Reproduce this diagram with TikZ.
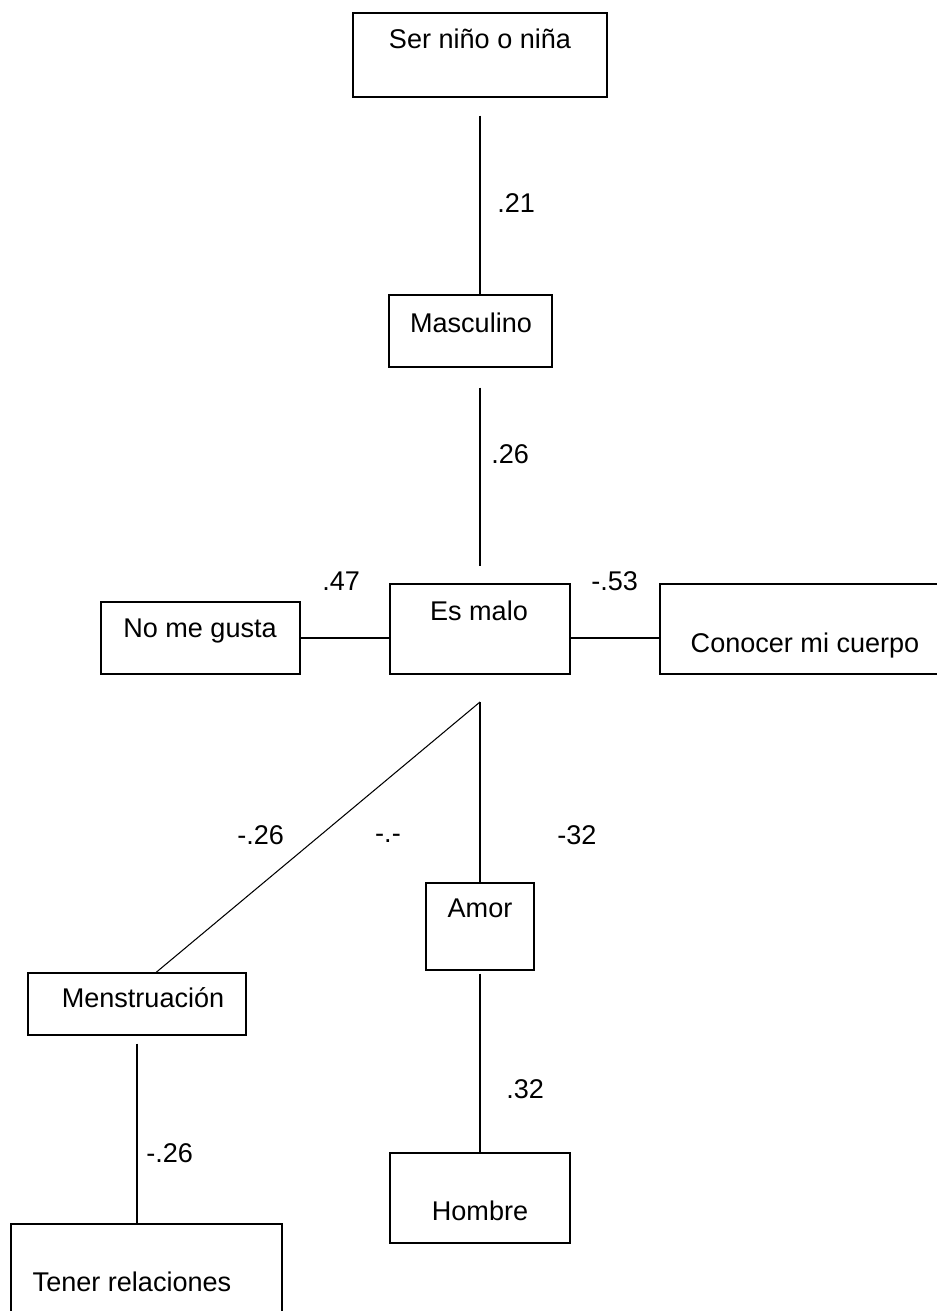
\documentclass[tikz,border=0pt]{standalone}
\usepackage{fontspec}
\setmainfont{Liberation Sans}
\usetikzlibrary{fit}
\tikzset{
    box/.style={draw, line width=0.6pt, inner sep=0pt},
    txt/.style={anchor=base, inner sep=0pt, font=\fontsize{15.4pt}{18pt}\selectfont},
    weight/.style={anchor=base west, inner sep=0pt, font=\fontsize{15.4pt}{18pt}\selectfont},
    link/.style={line width=0.6pt}
}
\begin{document}
\begin{tikzpicture}[x=0.02cm, y=-0.02cm]
        \useasboundingbox (0,0) rectangle (936,1311);

        \node[box, fit={(353,13) (607,97)}] (ser) {};
        \node[box, fit={(389,295) (552,367)}] (masc) {};
        \node[box, fit={(390,584) (570,674)}] (malo) {};
        \node[box, fit={(101,602) (300,674)}] (gusta) {};
        \node[box, fit={(660,584) (960,674)}] (cuerpo) {};
        \node[box, fit={(426,883) (534,970)}] (amor) {};
        \node[box, fit={(28,973) (246,1035)}] (mens) {};
        \node[box, fit={(390,1153) (570,1243)}] (hombre) {};
        \node[box, fit={(11,1224) (282,1340)}] (tener) {};

        \node[txt] (ser-t) at (480,49) {Ser niño o niña};
        \node[txt] (masc-t) at (471,332) {Masculino};
        \node[txt] (malo-t) at (479,620) {Es malo};
        \node[txt] (gusta-t) at (200,637) {No me gusta};
        \node[txt] (cuerpo-t) at (805,652) {Conocer mi cuerpo};
        \node[txt] (amor-t) at (480,917) {Amor};
        \node[txt] (mens-t) at (143,1007) {Menstruación};
        \node[txt] (hombre-t) at (480,1220) {Hombre};
        \node[txt] (tener-t) at (132,1291) {Tener relaciones};

        \coordinate (fork) at (480,702);

        \draw[link, shorten <=0.36cm] (ser.south) -- (ser.south |- masc.north);
        \draw[link, shorten <=0.4cm, shorten >=0.34cm] (masc.south -| malo.north) -- (malo.north);
        \draw[link] (gusta.east) -- (gusta.east -| malo.west);
        \draw[link] (malo.east |- gusta.east) -- (cuerpo.west |- gusta.east);
        \draw[link] (fork) -- ([xshift=0.38cm]mens.north);
        \draw[link] (fork) -- (amor.north);
        \draw[link, shorten <=0.06cm] (amor.south) -- (hombre.north);
        \draw[link, shorten <=0.16cm] (mens.south) -- (mens.south |- tener.north);

        \node[weight] (w1) at (497,213) {.21};
        \node[weight] (w2) at (491,463) {.26};
        \node[weight] (w3) at (322,590) {.47};
        \node[weight] (w4) at (591,590) {-.53};
        \node[weight] (w5) at (237,844) {-.26};
        \node[txt] (w6) at (388,842) {-.-};
        \node[weight] (w7) at (557,844) {-32};
        \node[weight] (w8) at (506,1098) {.32};
        \node[weight] (w9) at (146,1162) {-.26};

    \end{tikzpicture}
\end{document}
